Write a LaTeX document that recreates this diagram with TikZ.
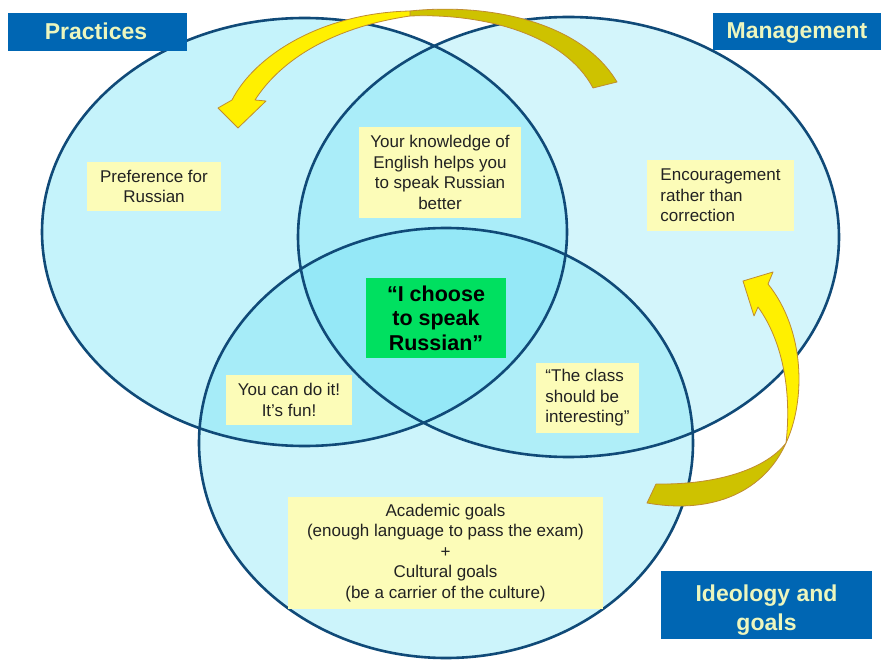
\documentclass[tikz,border=0pt]{standalone}
\usepackage{fontspec}
\setmainfont{Liberation Sans}
\definecolor{ringline}{RGB}{16,74,120}
\definecolor{ringfill}{RGB}{110,225,245}
\definecolor{notefill}{RGB}{252,252,184}
\definecolor{notetext}{RGB}{34,34,34}
\definecolor{corefill}{RGB}{0,224,96}
\definecolor{titlefill}{RGB}{0,102,179}
\definecolor{titletext}{RGB}{236,246,190}
\definecolor{arrowyellow}{RGB}{255,240,0}
\definecolor{arrowolive}{RGB}{206,194,0}
\definecolor{arrowedge}{RGB}{192,140,48}
\begin{document}
\begin{tikzpicture}[x=1pt,y=-1pt,
  ring/.style={draw=ringline, line width=2.6pt},
  note/.style={fill=notefill, text=notetext, inner sep=0pt,
    font=\fontsize{17}{20.5}\selectfont},
  core/.style={fill=corefill, text=black, inner sep=0pt, align=center,
    font=\bfseries\fontsize{21.5}{24.5}\selectfont},
  titletag/.style={fill=titlefill},
  titlelabel/.style={text=titletext, inner sep=0pt, align=center,
    font=\bfseries\fontsize{23}{29.5}\selectfont},
  arrowfront/.style={fill=arrowyellow, draw=arrowedge, line width=0.8pt, line join=round},
  arrowback/.style={fill=arrowolive, draw=arrowedge, line width=0.8pt, line join=round}]

\useasboundingbox (0,0) rectangle (881,660);
\fill[white] (0,0) rectangle (881,660);

% translucent discs: practices, management, ideology
\fill[ringfill, fill opacity=0.40] (304.5,232) ellipse [x radius=262.5pt, y radius=214pt];
\fill[ringfill, fill opacity=0.30] (568.5,237) ellipse [x radius=270.5pt, y radius=220pt];
\fill[ringfill, fill opacity=0.35] (446,443) ellipse [x radius=247pt, y radius=215pt];

% outlines
\draw[ring] (304.5,232) ellipse [x radius=262.5pt, y radius=214pt];
\draw[ring] (568.5,237) ellipse [x radius=270.5pt, y radius=220pt];
\draw[ring] (446,443) ellipse [x radius=247pt, y radius=215pt];

% curved arrow over the top
\filldraw[arrowback] (410,11) .. controls (485,3) and (580,20) .. (617,82)
  -- (593,88) .. controls (565,35) and (485,13) .. (410,16) -- cycle;
\filldraw[arrowfront] (410,11) .. controls (322,13) and (255,55) .. (232,100)
  -- (218,108) -- (238,128) -- (266,101) -- (255,100)
  .. controls (282,58) and (335,27) .. (410,16) -- cycle;

% curved arrow on the right
\filldraw[arrowback] (786,443) .. controls (765,470) and (715,485) .. (656,484)
  -- (647,503) .. controls (715,515) and (765,490) .. (786,443) -- cycle;
\filldraw[arrowfront] (786,443) .. controls (806,400) and (805,330) .. (768,284)
  -- (773,272) -- (743,281) -- (754,316) -- (758,307)
  .. controls (782,340) and (792,390) .. (786,443) -- cycle;

% notes
\node[note, align=center, minimum width=134pt, minimum height=49pt] (pref) at (154,186.5)
  {Preference for\\Russian};
\node[note, align=center, minimum width=162pt, minimum height=91pt] (know) at (440,172.5)
  {Your knowledge of\\English helps you\\to speak Russian\\better};
\node[note, align=left, minimum width=147pt, minimum height=71pt] (enc) at (720.5,195.5)
  {Encouragement\\rather than\\correction};
\node[core, minimum width=140pt, minimum height=80pt] (core) at (436,318)
  {“I choose\\to speak\\Russian”};
\node[note, align=center, minimum width=126pt, minimum height=50pt] (fun) at (289,400)
  {You can do it!\\It’s fun!};
\node[note, align=left, minimum width=103pt, minimum height=70pt] (class) at (587.5,398)
  {“The class\\should be\\interesting”};
\node[note, align=center, minimum width=315pt, minimum height=112pt] (goals) at (445.5,553)
  {Academic goals\\(enough language to pass the exam)\\+\\Cultural goals\\(be a carrier of the culture)};

% circle titles
\fill[titletag] (8,13) rectangle (187,51);
\node[titlelabel, anchor=base] (practices) at (96,40) {Practices};
\fill[titletag] (713,13) rectangle (881,50);
\node[titlelabel, anchor=base] (management) at (797,38.3) {Management};
\fill[titletag] (661,571) rectangle (872,639);
\node[titlelabel] (ideology) at (766.5,610) {Ideology and\\goals};
\end{tikzpicture}
\end{document}
